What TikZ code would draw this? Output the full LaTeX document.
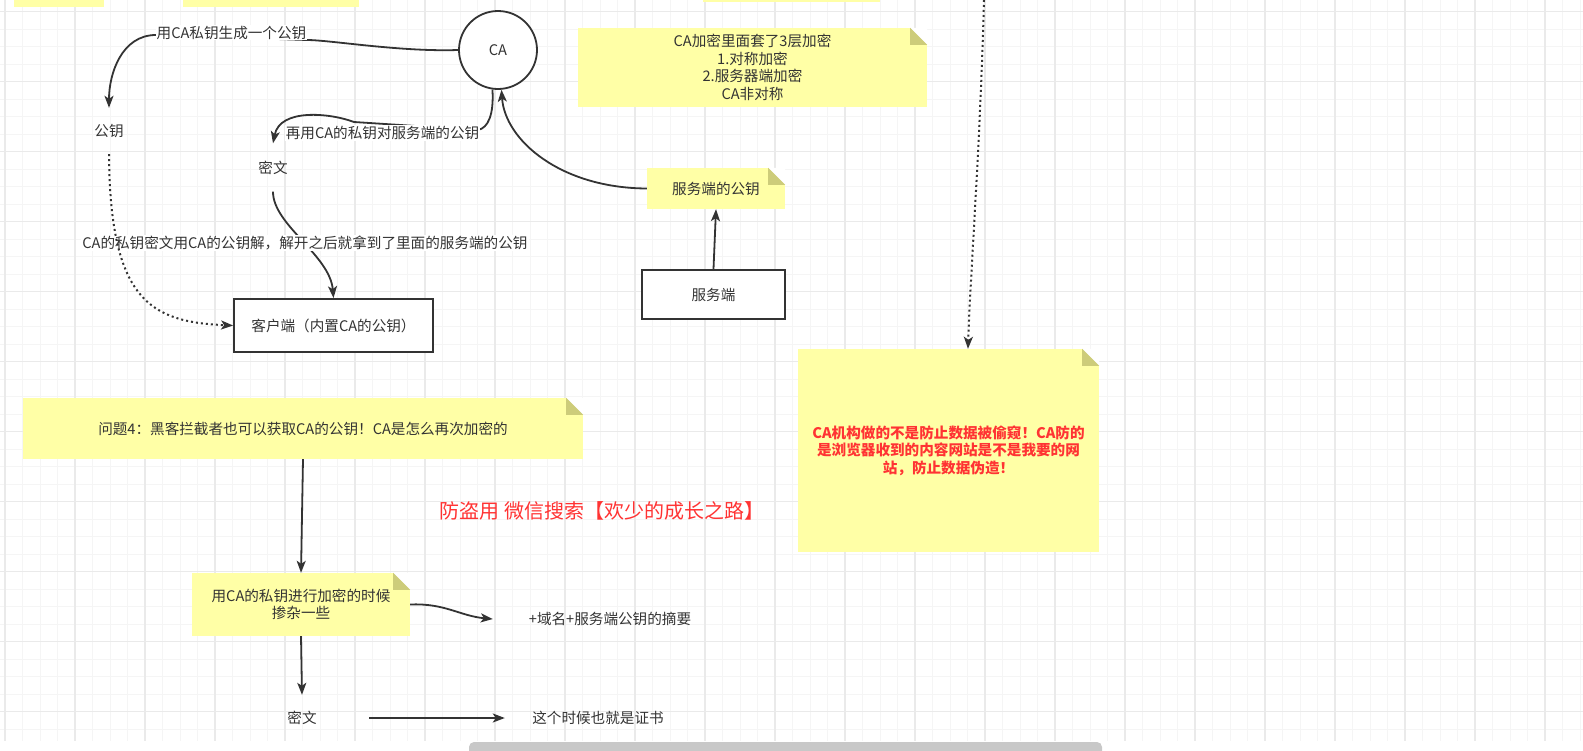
\documentclass[tikz,border=0pt]{standalone}
\usepackage{fontspec}
\setmainfont{Noto Sans CJK SC}
\usetikzlibrary{arrows.meta,positioning}

\definecolor{inkgray}{RGB}{51,51,51}
\definecolor{noteyellow}{RGB}{255,255,166}
\definecolor{notefold}{RGB}{205,204,122}
\definecolor{warnred}{RGB}{255,51,51}
\definecolor{gridminor}{RGB}{245,245,245}
\definecolor{gridmajor}{RGB}{234,234,234}
\definecolor{barcolor}{RGB}{200,200,200}

\newcommand{\basefont}{\fontsize{14.6}{17.5}\selectfont}
% folded corner on a note
\newcommand{\dogear}[1]{%
  \fill[white] ([xshift=-17pt]#1.north east) -- (#1.north east) -- ([yshift=-17pt]#1.north east) -- cycle;
  \fill[notefold] ([xshift=-17pt]#1.north east) -- ([xshift=-17pt,yshift=-17pt]#1.north east) -- ([yshift=-17pt]#1.north east) -- cycle;}

\begin{document}
\begin{tikzpicture}[
    x=1pt, y=-1pt,
    >={Stealth[length=12pt,width=9pt,inset=3pt]},
    every node/.style={align=center, text=inkgray, font=\basefont}
]

% Define styles
\tikzstyle{block} = [rectangle, draw=inkgray, line width=1.8pt, fill=white]
\tikzstyle{notebox} = [rectangle, fill=noteyellow]
\tikzstyle{plain} = [rectangle, inner sep=0pt]
\tikzstyle{lbl} = [fill=white, inner sep=1pt]
\tikzstyle{link} = [draw=inkgray, line width=1.8pt, ->]
\tikzstyle{dotlink} = [link, line width=2pt, dash pattern=on 2pt off 3pt]

\useasboundingbox (0,0) rectangle (1583,750);

% Grid
\foreach \i in {0,...,90} \draw[gridminor, line width=1pt] ({5+17.5*\i},0) -- ({5+17.5*\i},741);
\foreach \j in {0,...,41} \draw[gridminor, line width=1pt] (0,{11.7+17.5*\j}) -- (1583,{11.7+17.5*\j});
\foreach \i in {0,...,22} \draw[gridmajor, line width=1.2pt] ({5+70*\i},0) -- ({5+70*\i},741);
\foreach \j in {0,...,10} \draw[gridmajor, line width=1.2pt] (0,{11.7+70*\j}) -- (1583,{11.7+70*\j});

% Cut-off notes and scroll bar
\fill[noteyellow] (14,0) rectangle (104,7);
\fill[noteyellow] (183,0) rectangle (359,7);
\fill[noteyellow] (703,0) rectangle (880,2);
\fill[barcolor, rounded corners=5pt] (469,742) rectangle (1102,758);

% Nodes
\node[circle, draw=inkgray, line width=1.8pt, fill=white, minimum size=78pt, inner sep=0pt] (ca) at (498,50) {CA};
\node[plain, minimum width=40pt, minimum height=46pt] (gongyao) at (109,131) {公钥};
\node[plain, minimum width=40pt, minimum height=48pt] (miwen) at (273,167.5) {密文};
\node[block, minimum width=199pt, minimum height=53pt] (client) at (333.5,325.5) {客户端（内置CA的公钥）};
\node[notebox, minimum width=138pt, minimum height=41pt] (srvkey) at (716,188.5) {服务端的公钥};
\node[block, minimum width=143pt, minimum height=49pt] (server) at (713.5,294.5) {服务端};
\node[notebox, minimum width=349pt, minimum height=79pt] (layers) at (752.5,67.5) {CA加密里面套了3层加密\\1.对称加密\\2.服务器端加密\\CA非对称};
\node[notebox, minimum width=301pt, minimum height=203pt, text=warnred, font=\basefont\bfseries] (purpose) at (948.5,450.5) {CA机构做的不是防止数据被偷窥！CA防的\\是浏览器收到的内容网站是不是我要的网\\站，防止数据伪造！};
\node[notebox, minimum width=560pt, minimum height=61pt] (question) at (303,428.5) {问题4：黑客拦截者也可以获取CA的公钥！CA是怎么再次加密的};
\node[text=warnred, font=\fontsize{20}{23}\selectfont] (mark) at (602,511) {防盗用 微信搜索【欢少的成长之路】};
\node[notebox, minimum width=218pt, minimum height=63pt] (mix) at (301,604.5) {用CA的私钥进行加密的时候\\掺杂一些};
\node[plain, minimum width=134pt, minimum height=46pt] (cipher) at (302,718) {密文};
\node[plain, minimum width=186pt, minimum height=30pt] (cert) at (598,718) {这个时候也就是证书};
\node[plain, minimum width=234pt, minimum height=30pt] (digest) at (610,619) {+域名+服务端公钥的摘要};
\coordinate (dotstart) at (984,0);

% Paths
\path[link] (ca.west) .. controls (400,52) and (330,40) .. (307,40) -- node[lbl, yshift=5pt] {用CA私钥生成一个公钥} (156,35) .. controls (122,35) and (109,73) .. (gongyao.north);
\path[link] (ca.262) .. controls (494,115) and (488,128) .. (478,130) -- node[lbl, pos=0.77, yshift=-9pt] {再用CA的私钥对服务端的公钥} (354,122) .. controls (330,113) and (280,108) .. (miwen.north);
\path[link] (miwen.south) .. controls (273,225) and (330,255) .. node[lbl, xshift=3pt, yshift=-2pt] {CA的私钥密文用CA的公钥解，解开之后就拿到了里面的服务端的公钥} (client.north);
\path[dotlink] (gongyao.south) .. controls (110,300) and (150,322) .. (client.west);
\path[link] (server.north) -- (srvkey.south);
\path[link] (srvkey.west) .. controls (560,188) and (505,140) .. (ca.275);
\path[dotlink] (dotstart) .. controls (980,150) and (970,280) .. ([xshift=19.5pt]purpose.north);
\path[link] (question.south) -- (mix.north);
\path[link] (mix.south) -- (cipher.north);
\path[link] (cipher.east) -- (cert.west);
\path[link] (mix.east) .. controls (445,603) and (460,616) .. (digest.west);

% Folded corners
\dogear{srvkey}
\dogear{layers}
\dogear{purpose}
\dogear{question}
\dogear{mix}

\end{tikzpicture}
\end{document}
